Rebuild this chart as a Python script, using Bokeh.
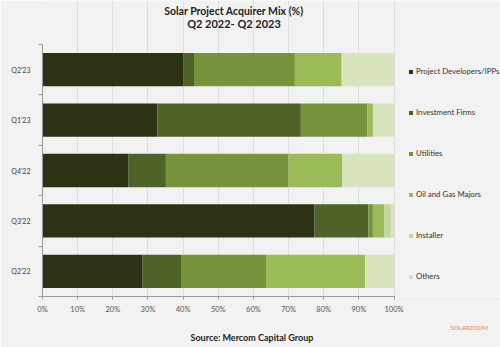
from bokeh.plotting import figure
from bokeh.models import (Range1d, FixedTicker, PrintfTickFormatter, Legend, LegendItem,
                          Title, Label, ColumnDataSource)
from bokeh.embed import file_html
from bokeh.resources import INLINE

periods = ["Q2'23", "Q1'23", "Q4'22", "Q3'22", "Q2'22"]
series_names = ["Project Developers/IPPs", "Investment Firms", "Utilities",
                "Oil and Gas Majors", "Installer", "Others"]
developers = [40.0, 32.7, 24.5, 77.4, 28.5]
investment = [3.1, 40.8, 10.6, 15.3, 11.1]
utilities = [28.7, 18.9, 34.9, 1.3, 24.0]
oil_gas = [13.3, 1.6, 15.3, 3.2, 28.2]
installer = [0.0, 0.0, 0.0, 1.9, 0.0]
others = [14.9, 6.0, 14.7, 0.9, 8.2]
x_ticks = [0, 10, 20, 30, 40, 50, 60, 70, 80, 90, 100]

colors = ["#2b3314", "#4f6228", "#77933c", "#9bbb59", "#c3d69b", "#d8e4bd"]
FONT = "Lato"
BG = "#f2f2f2"

W, H = 500, 347
LEFT = 42
BOTTOM = 51
AXIS_PX = 351.5           # pixel length of the 0-100 % axis
PLOT_H = 252              # pixel height of the category band
FRAME_W = W - LEFT        # frame extends under the legend
FRAME_H = H - BOTTOM      # frame extends up under the titles
x_end = 100 * FRAME_W / AXIS_PX

n = len(periods)
y_end = n * FRAME_H / PLOT_H
ypos = [n - i - 0.5 for i in range(n)]
keys = ["s0", "s1", "s2", "s3", "s4", "s5"]
src = ColumnDataSource(dict(y=ypos, s0=developers, s1=investment, s2=utilities,
                            s3=oil_gas, s4=installer, s5=others))

p = figure(width=W, height=H, output_backend="svg", toolbar_location=None,
           x_range=Range1d(0, x_end), y_range=Range1d(0, y_end),
           min_border_left=LEFT, min_border_right=0, min_border_top=0, min_border_bottom=BOTTOM,
           background_fill_color=BG, border_fill_color=BG, outline_line_color=None)
p.title.text = ""

rs = p.hbar_stack(keys, y="y", height=0.66, color=colors, line_color=None, source=src)

p.xaxis.ticker = FixedTicker(ticks=x_ticks)
p.xaxis.bounds = (0, 100)
p.xaxis.formatter = PrintfTickFormatter(format="%d%%")
p.xaxis.axis_line_color = "#9a9a9a"
p.xaxis.major_tick_line_color = "#9a9a9a"
p.xaxis.major_tick_out = 3
p.xaxis.major_tick_in = 0
p.xaxis.minor_tick_line_color = None
p.xaxis.major_label_text_font = FONT
p.xaxis.major_label_text_font_size = "7.5px"
p.xaxis.major_label_text_color = "#555555"
p.xaxis.major_label_standoff = 5

p.yaxis.ticker = FixedTicker(ticks=ypos, minor_ticks=list(range(n + 1)))
p.yaxis.bounds = (0, n)
p.yaxis.major_label_overrides = {ypos[i]: periods[i] for i in range(n)}
p.yaxis.axis_line_color = "#9a9a9a"
p.yaxis.major_tick_line_color = None
p.yaxis.minor_tick_line_color = "#9a9a9a"
p.yaxis.minor_tick_out = 4
p.yaxis.minor_tick_in = 0
p.yaxis.major_label_text_font = FONT
p.yaxis.major_label_text_font_size = "7px"
p.yaxis.major_label_text_color = "#444444"
p.yaxis.major_label_standoff = 6

p.ygrid.grid_line_color = None
p.xgrid.grid_line_color = "#dedede"
p.xgrid.grid_line_width = 1
p.xgrid.bounds = (0, 100)

# titles inside the (extended) frame, positioned in screen px from the frame's bottom-left
p.add_layout(Label(x=191.5, y=FRAME_H - 10, x_units="screen", y_units="screen",
                   text="Solar Project Acquirer Mix (%)", text_align="center",
                   text_baseline="middle", text_font=FONT, text_font_size="10.5px",
                   text_font_style="bold", text_color="#222222"))
p.add_layout(Label(x=191.5, y=FRAME_H - 23, x_units="screen", y_units="screen",
                   text="Q2 2022- Q2 2023", text_align="center",
                   text_baseline="middle", text_font=FONT, text_font_size="11px",
                   text_font_style="bold", text_color="#222222"))

# footer texts (first added is nearest the axis)
p.add_layout(Title(text="SOLARZOOM", align="left", offset=408, standoff=11,
                   text_font=FONT, text_font_size="6px", text_font_style="normal",
                   text_color="#f0863a"), "below")
p.add_layout(Title(text="Source: Mercom Capital Group", align="left", offset=148, standoff=-13,
                   text_font=FONT, text_font_size="9px", text_font_style="bold",
                   text_color="#222222"), "below")

legend = Legend(items=[LegendItem(label=series_names[i], renderers=[rs[i]]) for i in range(len(keys))],
                location=(366, 15), glyph_width=5, glyph_height=5, label_height=8,
                label_standoff=3, spacing=31, padding=0, margin=0,
                border_line_color=None, background_fill_alpha=0,
                label_text_font=FONT, label_text_font_size="7.8px", label_text_color="#333333")
p.add_layout(legend, "center")

open("out.html", "w").write(file_html(p, INLINE))
